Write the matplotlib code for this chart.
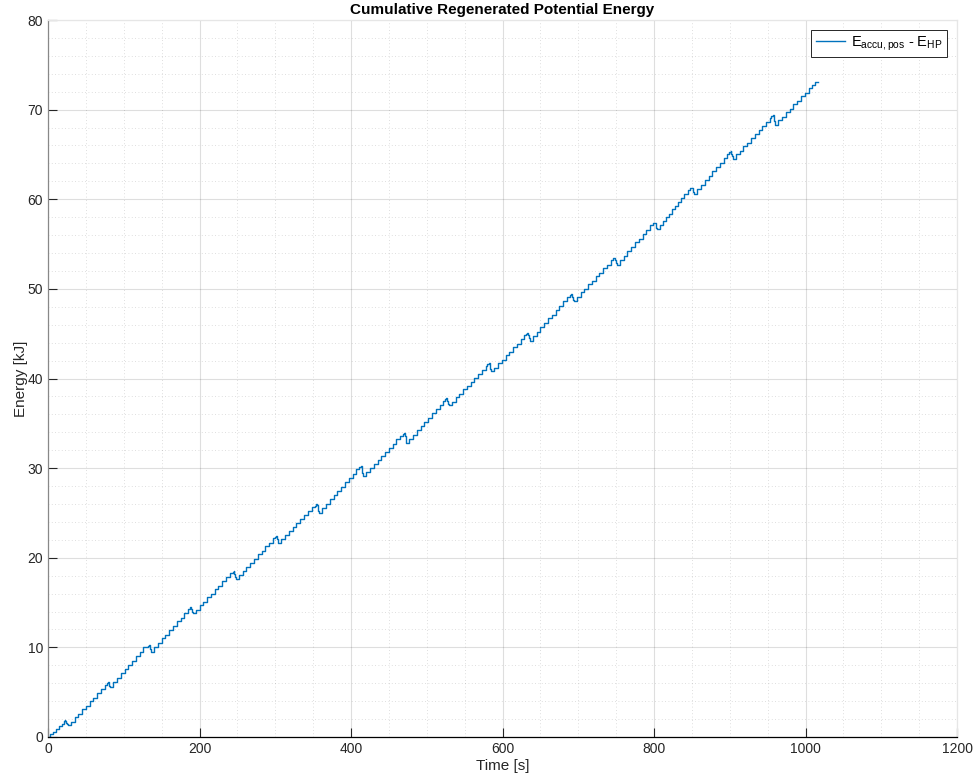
import matplotlib
matplotlib.use("Agg")
import matplotlib.pyplot as plt
from matplotlib.ticker import MultipleLocator

FONT = "Liberation Sans"
plt.rcParams["font.family"] = [FONT, "DejaVu Sans"]
plt.rcParams["mathtext.fontset"] = "custom"
plt.rcParams["mathtext.rm"] = FONT
plt.rcParams["mathtext.it"] = FONT

# Time samples [s] and cumulative energy [kJ] (step-wise signal, one row per lifting cycle)
time_s = [
    0, 3, 7, 11, 15, 19, 21, 22, 23, 24, 25, 26,
    30, 35, 40, 45, 50, 55, 60, 65, 70, 75, 78, 79, 80, 81, 82,
    86, 91, 96, 101, 106, 111, 116, 121, 126, 132, 133, 134, 135, 136,
    140, 145, 150, 155, 160, 165, 170, 175, 180, 185, 187, 188, 189, 190, 191,
    195, 200, 205, 210, 215, 220, 225, 230, 235, 240, 244, 245, 246, 247, 248,
    252, 257, 262, 267, 272, 277, 282, 287, 292, 297, 300, 301, 302, 303, 304,
    308, 313, 318, 323, 328, 333, 338, 343, 348, 352, 354, 355, 356, 357, 358,
    362, 367, 372, 377, 382, 387, 392, 397, 402, 407, 411, 413, 414, 415, 416,
    420, 425, 430, 435, 440, 445, 450, 455, 460, 465, 468, 470, 471, 472, 473,
    477, 482, 487, 492, 497, 502, 507, 512, 517, 522, 524, 526, 527, 528, 529,
    533, 538, 543, 548, 553, 558, 563, 568, 573, 578, 580, 582, 583, 584, 585,
    589, 594, 599, 604, 609, 614, 619, 624, 629, 631, 633, 634, 635, 636,
    640, 645, 650, 655, 660, 665, 670, 675, 680, 685, 689, 691, 692, 693, 694,
    698, 703, 708, 713, 718, 723, 728, 733, 738, 743, 746, 748, 749, 750, 751,
    755, 760, 765, 770, 775, 780, 785, 790, 795, 799, 801, 802, 803, 804,
    808, 812, 816, 820, 824, 828, 832, 836, 840, 845, 848, 850, 851, 852, 853,
    857, 862, 867, 872, 877, 882, 887, 892, 897, 899, 901, 902, 903, 904,
    908, 913, 918, 923, 928, 933, 938, 943, 948, 953, 955, 957, 958, 959, 960,
    964, 969, 974, 979, 984, 989, 994, 999, 1004, 1009, 1013, 1016,
]
energy_kj = [
    0.0, 0.3, 0.6, 0.9, 1.2, 1.5, 1.8, 1.9, 1.8, 1.6, 1.4, 1.3,
    1.7, 2.2, 2.6, 3.1, 3.5, 4.0, 4.4, 4.9, 5.3, 5.8, 6.0, 6.1, 5.9, 5.7, 5.6,
    6.1, 6.6, 7.1, 7.6, 8.0, 8.5, 9.0, 9.5, 10.0, 10.2, 10.3, 10.1, 9.8, 9.5,
    10.0, 10.5, 11.0, 11.4, 11.9, 12.4, 12.9, 13.3, 13.8, 14.3, 14.4, 14.5, 14.3, 14.0, 13.8,
    14.2, 14.7, 15.1, 15.6, 16.0, 16.5, 16.9, 17.4, 17.8, 18.3, 18.4, 18.5, 18.2, 17.9, 17.6,
    18.1, 18.5, 19.0, 19.4, 19.9, 20.4, 20.8, 21.3, 21.7, 22.2, 22.3, 22.4, 22.1, 21.8, 21.6,
    22.1, 22.5, 23.0, 23.4, 23.9, 24.3, 24.8, 25.2, 25.7, 25.8, 26.0, 25.9, 25.5, 25.2, 25.0,
    25.5, 26.0, 26.5, 27.0, 27.5, 27.9, 28.4, 28.9, 29.4, 29.9, 30.1, 30.2, 29.9, 29.5, 29.1,
    29.6, 30.0, 30.5, 30.9, 31.4, 31.8, 32.3, 32.7, 33.2, 33.6, 33.8, 33.9, 33.6, 33.2, 32.8,
    33.3, 33.7, 34.2, 34.7, 35.2, 35.6, 36.1, 36.6, 37.0, 37.5, 37.7, 37.8, 37.5, 37.2, 37.0,
    37.4, 37.9, 38.3, 38.8, 39.2, 39.6, 40.1, 40.5, 41.0, 41.4, 41.6, 41.7, 41.4, 41.1, 40.8,
    41.2, 41.7, 42.1, 42.6, 43.0, 43.5, 43.9, 44.4, 44.8, 45.0, 45.1, 44.8, 44.5, 44.2,
    44.7, 45.2, 45.7, 46.2, 46.7, 47.1, 47.6, 48.1, 48.6, 49.1, 49.3, 49.4, 49.1, 48.8, 48.7,
    49.1, 49.6, 50.0, 50.5, 50.9, 51.4, 51.8, 52.3, 52.7, 53.2, 53.4, 53.5, 53.2, 52.9, 52.7,
    53.2, 53.7, 54.2, 54.7, 55.2, 55.6, 56.1, 56.6, 57.1, 57.3, 57.4, 57.1, 56.8, 56.7,
    57.1, 57.6, 58.0, 58.4, 58.9, 59.3, 59.7, 60.1, 60.6, 61.0, 61.2, 61.3, 61.0, 60.8, 60.6,
    61.1, 61.6, 62.1, 62.6, 63.1, 63.6, 64.1, 64.6, 65.1, 65.3, 65.4, 65.1, 64.8, 64.5,
    65.0, 65.4, 65.9, 66.3, 66.8, 67.3, 67.7, 68.2, 68.6, 69.1, 69.3, 69.4, 69.1, 68.7, 68.3,
    68.8, 69.2, 69.7, 70.1, 70.6, 71.0, 71.5, 71.9, 72.4, 72.8, 73.1, 73.1,
]

x_ticks = [0, 200, 400, 600, 800, 1000, 1200]
y_ticks = [0, 10, 20, 30, 40, 50, 60, 70, 80]

AX_COLOR = "#262626"
LINE_COLOR = "#0072BD"

fig = plt.figure(figsize=(9.77, 7.83), dpi=100)
ax = fig.add_axes([48 / 977, 46 / 783, 909 / 977, 717 / 783])

ax.plot(time_s, energy_kj, drawstyle="steps-post", color=LINE_COLOR, lw=1.0,
        label=r"E$_{\mathrm{accu,pos}}$ - E$_{\mathrm{HP}}$")

ax.set_xlim(x_ticks[0], x_ticks[-1])
ax.set_ylim(y_ticks[0], y_ticks[-1])
ax.set_xticks(x_ticks)
ax.set_yticks(y_ticks)
ax.xaxis.set_minor_locator(MultipleLocator(50))
ax.yaxis.set_minor_locator(MultipleLocator(2))

ax.grid(which="major", color=AX_COLOR, alpha=0.15, lw=0.8, ls="-")
ax.grid(which="minor", color=AX_COLOR, alpha=0.2, lw=0.6, ls=(0, (1, 3)))
ax.set_axisbelow(True)

ax.tick_params(which="major", direction="in", length=6.5, width=0.8,
               colors=AX_COLOR, labelsize=10, top=False, right=False)
ax.tick_params(which="minor", length=0)

ax.spines["bottom"].set_color("#000000")
ax.spines["left"].set_color("#888888")
ax.spines["top"].set_color("#e6e6e6")
ax.spines["right"].set_color("#e6e6e6")
for s in ax.spines.values():
    s.set_linewidth(0.9)

ax.set_xlabel("Time [s]", fontsize=11, color=AX_COLOR, labelpad=2)
ax.set_ylabel("Energy [kJ]", fontsize=11, color=AX_COLOR, labelpad=0)
ax.set_title("Cumulative Regenerated Potential Energy", fontsize=11,
             fontweight="bold", color="#000000", pad=4)

leg = ax.legend(loc="upper right", fontsize=10.5, frameon=True, fancybox=False,
                edgecolor=AX_COLOR, framealpha=1, handlelength=2.0,
                borderaxespad=0.7, handletextpad=0.4, borderpad=0.3)
leg.get_frame().set_linewidth(0.7)
leg.get_lines()[0].set_linewidth(1.0)
leg.get_lines()[0].set_color(LINE_COLOR)

fig.savefig("out.png", dpi=100)
